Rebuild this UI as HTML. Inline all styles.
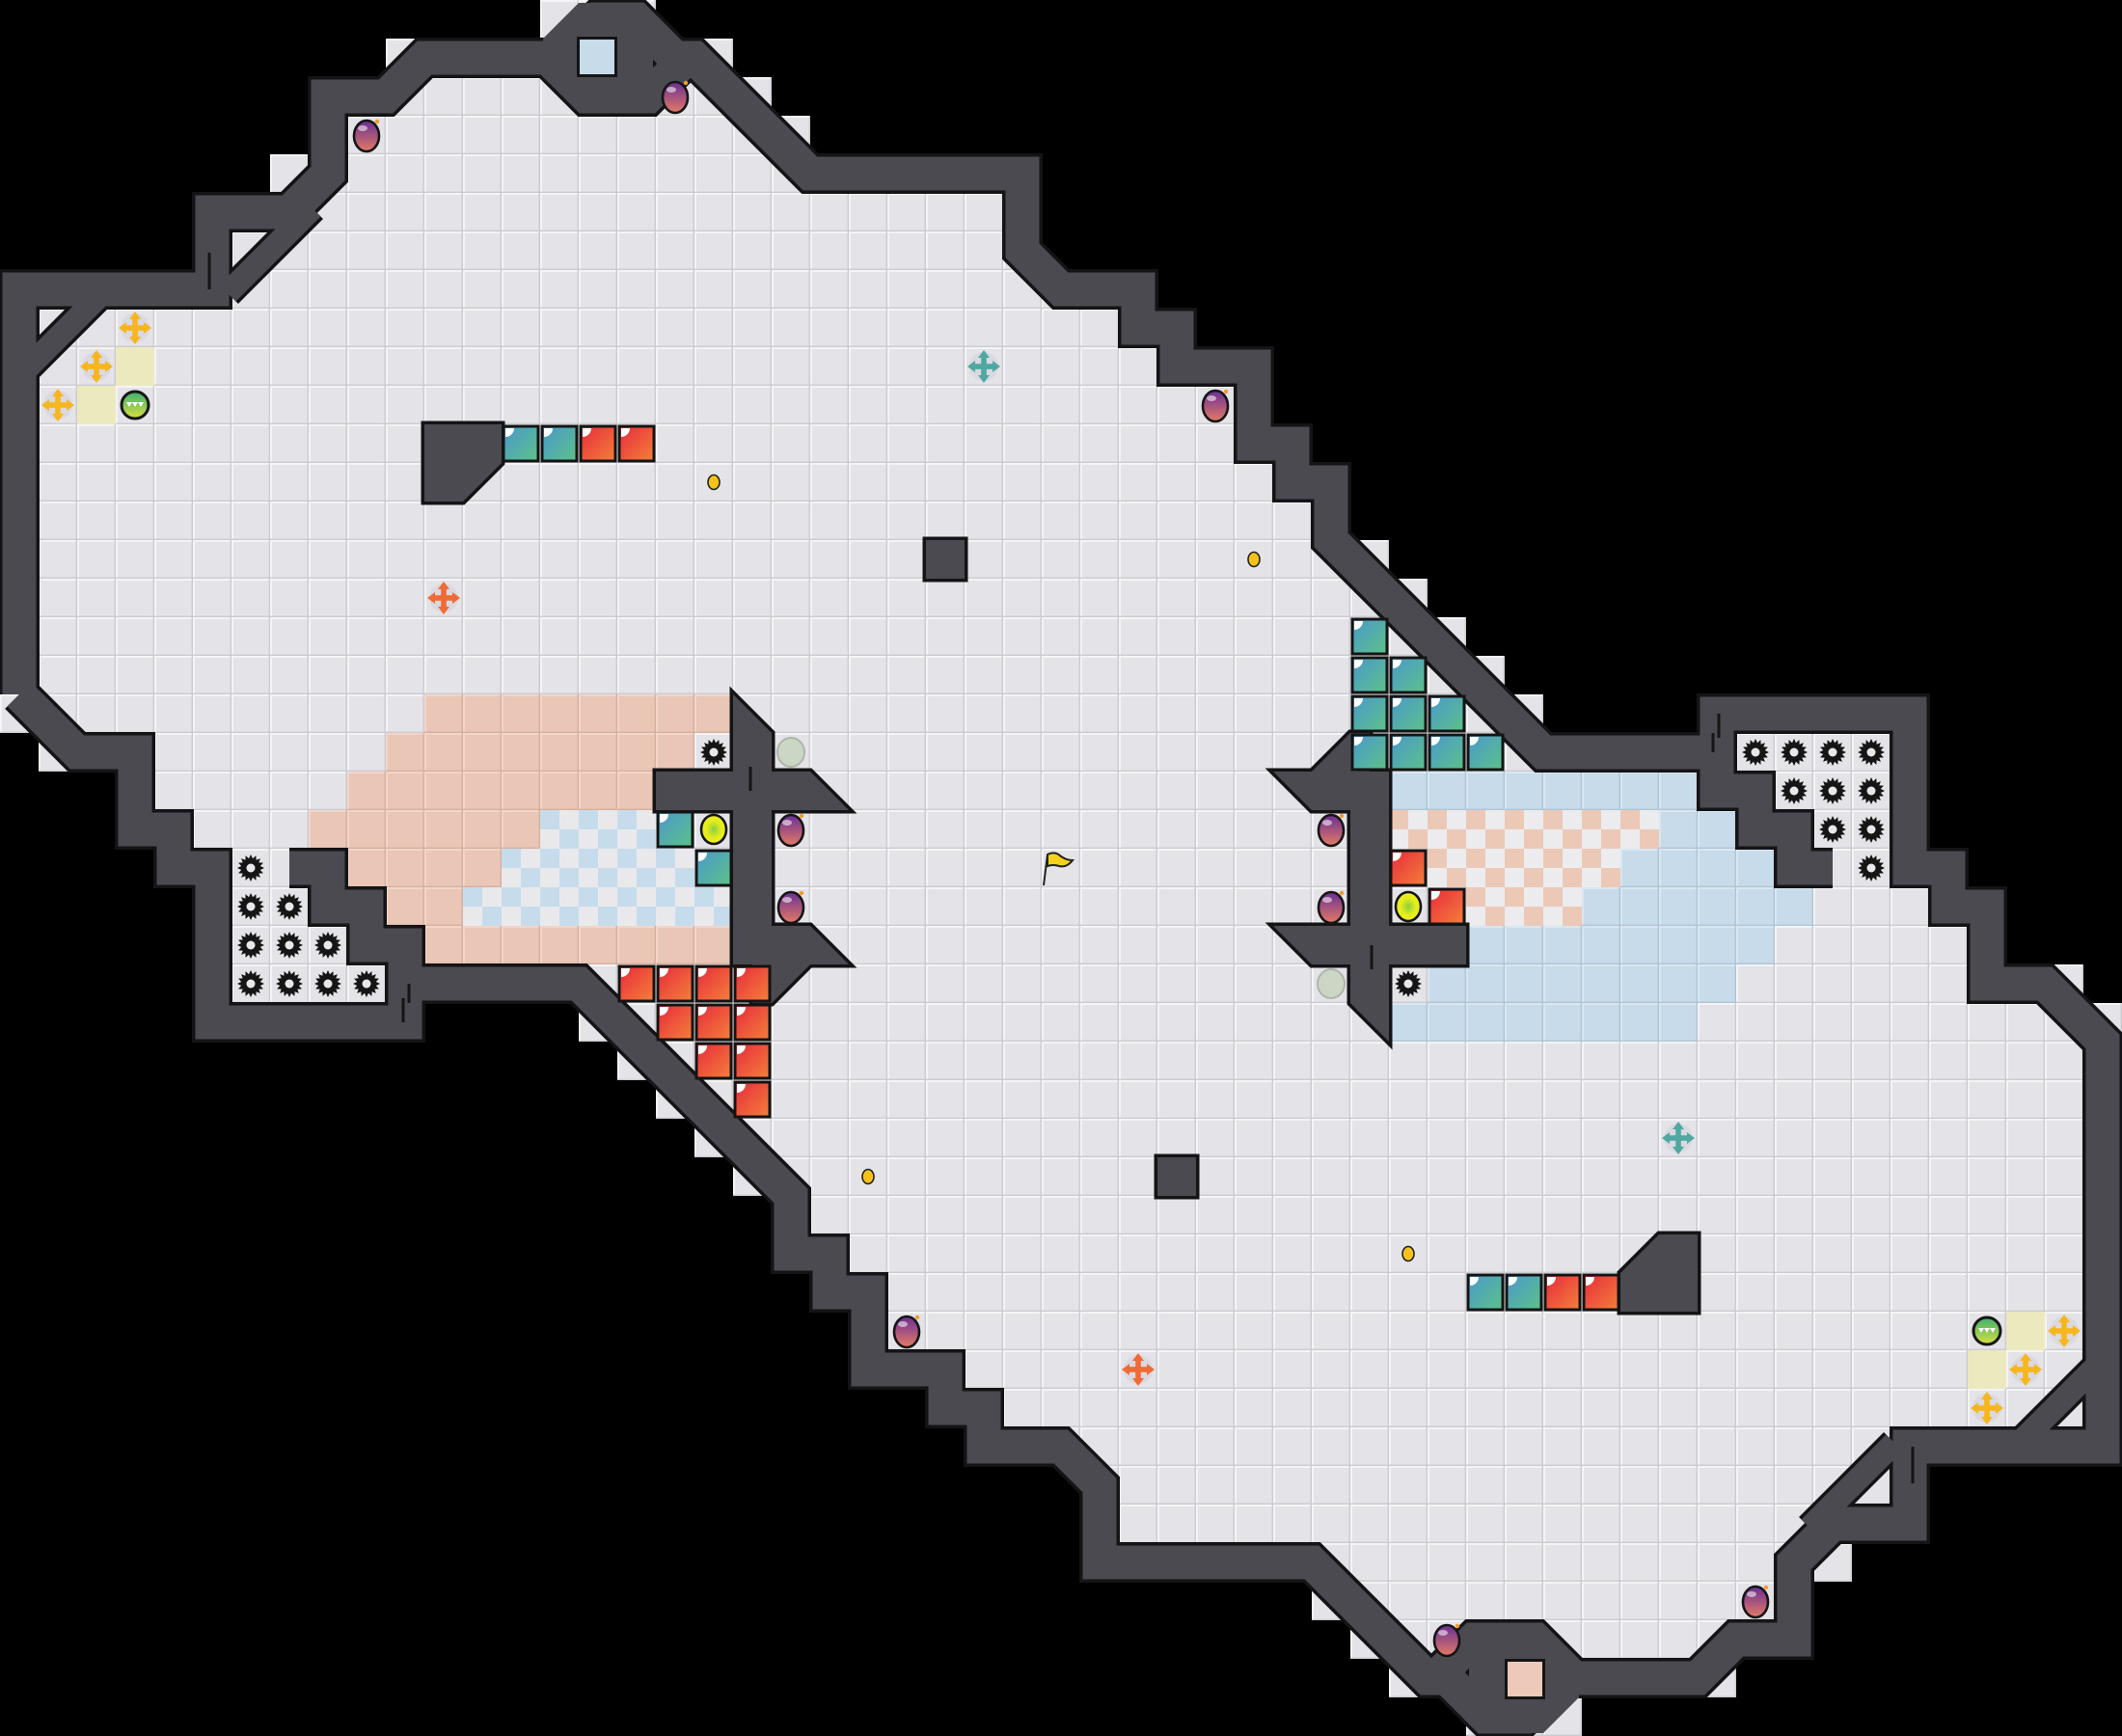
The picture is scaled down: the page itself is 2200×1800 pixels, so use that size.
<!DOCTYPE html>
<html><head><meta charset="utf-8"><style>html,body{margin:0;padding:0;background:#000;width:2200px;height:1800px;overflow:hidden}svg{display:block}</style></head>
<body>
<svg id="s" width="2200" height="1800" xmlns="http://www.w3.org/2000/svg"></svg>
<script>
const S=40;
const rc=p=>[55-p[0],45-p[1]];
const rC=p=>[54-p[0],44-p[1]];
const X=c=>(c+.5)*S, Y=r=>(r+.5)*S;
const pts=a=>a.map(p=>(p[0]*S)+','+(p[1]*S)).join(' ');
const cpts=a=>a.map(p=>X(p[0]).toFixed(1)+','+Y(p[1]).toFixed(1)).join(' ');
let o='';
o+=`<defs>
<pattern id="fl" width="40" height="40" patternUnits="userSpaceOnUse"><rect width="40" height="40" fill="#e3e3e8"/><path d="M0 1H40M1 0V40" stroke="#f4f4f6" stroke-width="2"/><path d="M0 39.3H40M39.3 0V40" stroke="#cbcbd1" stroke-width="1.4"/></pattern>
<pattern id="pk" width="40" height="40" patternUnits="userSpaceOnUse"><rect width="40" height="40" fill="#eac6b6"/><path d="M0 1H40M1 0V40" stroke="#f2d6c9" stroke-width="2"/><path d="M0 39.3H40M39.3 0V40" stroke="#d6b09e" stroke-width="1.4"/></pattern>
<pattern id="bl" width="40" height="40" patternUnits="userSpaceOnUse"><rect width="40" height="40" fill="#c7dbea"/><path d="M0 1H40M1 0V40" stroke="#d9e7f1" stroke-width="2"/><path d="M0 39.3H40M39.3 0V40" stroke="#afc5d6" stroke-width="1.4"/></pattern>
<pattern id="cb" width="40" height="40" patternUnits="userSpaceOnUse"><rect width="40" height="40" fill="#e9e9ec"/><rect width="20" height="20" fill="#c6dcec"/><rect x="20" y="20" width="20" height="20" fill="#c6dcec"/></pattern>
<pattern id="cp" width="40" height="40" patternUnits="userSpaceOnUse"><rect width="40" height="40" fill="#ececee"/><rect width="20" height="20" fill="#ecc8b7"/><rect x="20" y="20" width="20" height="20" fill="#ecc8b7"/></pattern>
<linearGradient id="gT" x1="0" y1="0" x2="1" y2="1"><stop offset="0" stop-color="#4a98cc"/><stop offset="1" stop-color="#5cc288"/></linearGradient>
<linearGradient id="gR" x1="0" y1="0" x2="1" y2="1"><stop offset="0" stop-color="#e62a3c"/><stop offset="1" stop-color="#f5803a"/></linearGradient>
<linearGradient id="gB" x1="0" y1="0" x2="0" y2="1"><stop offset="0" stop-color="#6a2f94"/><stop offset="1" stop-color="#e47a66"/></linearGradient>
<radialGradient id="gY"><stop offset="0" stop-color="#8ccf40"/><stop offset=".6" stop-color="#e4ec1c"/><stop offset="1" stop-color="#eef01a"/></radialGradient>
<linearGradient id="gG" x1="0" y1="0" x2="0" y2="1"><stop offset="0" stop-color="#3cb070"/><stop offset="1" stop-color="#d8e040"/></linearGradient>
</defs>`;
const F=[[0,19],[0,7],[5,7],[5,5],[7,5],[7,4],[8,4],[8,2],[10,2],[10,1],[14,1],[14,0],[17,0],[17,1],[19,1],[19,2],[20,2],[20,3],[21,3],[21,4],[27,4],[27,7],[30,7],[30,8],[31,8],[31,9],[33,9],[33,11],[34,11],[34,12],[35,12],[35,14],[36,14],[36,15],[37,15],[37,16],[38,16],[38,17],[39,17],[39,18],[40,18],[40,19],[44,19],[44,18],[50,18],[50,22],[51,22],[51,23],[52,23],[52,25],[54,25],[54,26],[55,26]];
const FF=F.concat(F.map(rc));
o+=`<polygon points="${pts(FF)}" fill="url(#fl)"/>`;
function cell(c,r,f){return `<rect x="${c*S}" y="${r*S}" width="40" height="40" fill="${f}"/>`;}
const reg=[[18,11,18,'p'],[19,10,17,'p'],[20,9,16,'p'],[21,8,13,'p'],[21,14,16,'c'],[22,9,12,'p'],[22,13,17,'c'],[23,10,11,'p'],[23,12,18,'c'],[24,11,18,'p']];
reg.forEach(([r,a,b,t])=>{for(let c=a;c<=b;c++){o+=cell(c,r,t=='p'?'url(#pk)':'url(#cb)');const q=rC([c,r]);o+=cell(q[0],q[1],t=='p'?'url(#bl)':'url(#cp)');}});
[[3,9],[2,10]].forEach(p=>{o+=cell(p[0],p[1],'#ece9bf');const q=rC(p);o+=cell(q[0],q[1],'#ece9bf');});
const W=[[0,17.5],[0,7],[5,7],[5,5],[7,5],[8,4],[8,2],[9.5,2],[10.5,1],[14,1],[15,0],[16,0],[17,1],[17.5,1],[20.5,4],[26,4],[26,6],[27,7],[29,7],[29,8],[30,8],[30,9],[32,9],[32,11],[33,11],[33,12],[34,12],[34,13.5],[39.5,19],[44,19],[44,18],[49,18],[49,22],[50,22],[50,23],[51,23],[51,25],[52.5,25],[54,26.5]];
const WW=W.concat(W.slice(1).map(rC));
const extras=[[[13.7,1],[14.7,2],[16.3,2],[17.3,1]],[[44,19],[44,20],[45,20],[45,21],[46,21],[46,22],[47,22]]];
const diag=[[[-0.2,9.45],[2.45,6.8]],[[5.4,7.1],[7.6,4.9]]];
let blk='',gry='';
function wl(a,w){blk+=`<polyline points="${cpts(a)}" fill="none" stroke="#141416" stroke-width="${w+7}" stroke-linejoin="miter"/>`;gry+=`<polyline points="${cpts(a)}" fill="none" stroke="#4a4a50" stroke-width="${w}" stroke-linejoin="miter"/>`;}
wl(WW.concat([WW[0]]),35);
extras.forEach(a=>{wl(a,35);wl(a.map(rC),35);});
diag.forEach(a=>{wl(a,24);wl(a.map(rC),24);});
o+=blk+gry;
// nook fill + boxes
const nook='600,3 640,3 677,40 677,80 640,115 600,115 563,80 563,40';
o+=`<polygon points="${nook}" fill="#4a4a50"/><g transform="rotate(180 1100 900)"><polygon points="${nook}" fill="#4a4a50"/></g>`;
o+=`<rect x="598" y="38" width="42" height="42" fill="#141416"/><rect x="601" y="41" width="36" height="36" fill="#c8dbe9"/>`;
o+=`<rect x="1560" y="1720" width="42" height="42" fill="#141416"/><rect x="1563" y="1723" width="36" height="36" fill="#ecc9b9"/>`;
function shapes(){
 return [
  `<polygon points="${pts([[11,11],[13,11],[13,12],[12,13],[11,13]])}"/>`,
  `<rect x="960" y="560" width="40" height="40"/>`,
  `<polygon points="760,720 800,760 800,1000 760,1000"/>`,
  `<polygon points="680,800 840,800 880,840 680,840"/>`,
  `<polygon points="800,960 840,960 880,1000 840,1000 800,1040 780,1040 780,960"/>`
 ];
}
const sh=shapes();
let sb='',sf='';
sh.forEach(s=>{sb+=s.replace(/\/>$/,' fill="#141416" stroke="#141416" stroke-width="7" stroke-linejoin="miter"/>');sf+=s.replace(/\/>$/,' fill="#4a4a50"/>');});
o+=`<g>${sb}</g><g transform="rotate(180 1100 900)">${sb}</g><g>${sf}</g><g transform="rotate(180 1100 900)">${sf}</g>`;
function blockI(c,r,g){const x=c*S+2,y=r*S+2;return `<rect x="${x}" y="${y}" width="36" height="36" fill="url(#${g})" stroke="#141414" stroke-width="3"/><path d="M${x+2} ${y+2}h9a9 9 0 0 1 -9 9z" fill="#fff"/>`;}
function bomb(c,r){const x=X(c),y=Y(r);return `<ellipse cx="${x}" cy="${y+1}" rx="13" ry="16" fill="url(#gB)" stroke="#151515" stroke-width="2.6"/><ellipse cx="${x-4}" cy="${y-7}" rx="5" ry="3" fill="#fff" opacity=".55"/><circle cx="${x+11}" cy="${y-14}" r="2.2" fill="#f39a2a"/>`;}
function gear(c,r){const x=X(c),y=Y(r);let p=[];for(let i=0;i<32;i++){const a=i*Math.PI/16,R=i%2?10:14;p.push((x+R*Math.cos(a)).toFixed(1)+','+(y+R*Math.sin(a)).toFixed(1));}return `<polygon points="${p.join(' ')}" fill="#151515"/><circle cx="${x}" cy="${y}" r="4.5" fill="#e8e8ec"/>`;}
function coin(c,r){return `<ellipse cx="${X(c)}" cy="${Y(r)}" rx="6" ry="7.5" fill="#f6c21a" stroke="#222" stroke-width="1.6"/>`;}
function cross(c,r,col){const x=X(c),y=Y(r);return `<circle cx="${x}" cy="${y}" r="15" fill="#d4d4dc" opacity=".7"/><g fill="${col}"><rect x="${x-2.8}" y="${y-13}" width="5.6" height="26"/><rect x="${x-13}" y="${y-2.8}" width="26" height="5.6"/><polygon points="${x},${y-17} ${x-6},${y-9} ${x+6},${y-9}"/><polygon points="${x},${y+17} ${x-6},${y+9} ${x+6},${y+9}"/><polygon points="${x-17},${y} ${x-9},${y-6} ${x-9},${y+6}"/><polygon points="${x+17},${y} ${x+9},${y-6} ${x+9},${y+6}"/></g>`;}
function yball(c,r){return `<ellipse cx="${X(c)}" cy="${Y(r)}" rx="13" ry="15" fill="url(#gY)" stroke="#151515" stroke-width="2.6"/>`;}
function gball(c,r){return `<ellipse cx="${X(c)}" cy="${Y(r)}" rx="14" ry="15" fill="#cbd6c4" stroke="#aeb6aa" stroke-width="2"/>`;}
function grn(c,r){const x=X(c),y=Y(r);return `<circle cx="${x}" cy="${y}" r="14" fill="url(#gG)" stroke="#151515" stroke-width="3"/><path d="M${x-9} ${y-3}l3 5 3-5zM${x-3} ${y-3}l3 5 3-5zM${x+3} ${y-3}l3 5 3-5z" fill="#fff"/>`;}
const sym=(f,list)=>list.forEach(p=>{o+=f(p[0],p[1]);const q=rC(p);o+=f(q[0],q[1]);});
sym(bomb,[[9,3],[17,2],[31,10],[20,21],[20,23]]);
sym(coin,[[18,12],[32,14]]);
sym(gear,[[18,19],[6,22],[6,23],[7,23],[6,24],[7,24],[8,24],[6,25],[7,25],[8,25],[9,25]]);
sym((c,r)=>cross(c,r,'#f7b51e'),[[3,8],[2,9],[1,10]]);
sym(grn,[[3,10]]);
sym(yball,[[18,21]]);
sym(gball,[[20,19]]);
[[13,11],[14,11],[38,33],[39,33],[17,21],[18,22],[35,16],[35,17],[36,17],[35,18],[36,18],[37,18],[35,19],[36,19],[37,19],[38,19]].forEach(p=>o+=blockI(p[0],p[1],'gT'));
[[15,11],[16,11],[40,33],[41,33],[36,22],[37,23],[16,25],[17,25],[18,25],[19,25],[17,26],[18,26],[19,26],[18,27],[19,27],[19,28]].forEach(p=>o+=blockI(p[0],p[1],'gR'));
o+=cross(11,15,'#f06a36')+cross(29,35,'#f06a36')+cross(25,9,'#4fa8a2')+cross(43,29,'#4fa8a2');
o+=`<line x1="1086" y1="886" x2="1082" y2="918" stroke="#222" stroke-width="2"/><path d="M1086 886 q8 -4 14 2 q6 4 12 4 q-6 8 -14 6 q-6 -2 -12 0z" fill="#f4d21c" stroke="#222" stroke-width="2"/>`;
o+=`<g stroke="#151515" stroke-width="3">`;
[[217,262,217,300],[1776,760,1776,780],[778,795,778,820],[418,1035,418,1060]].forEach(l=>{o+=`<line x1="${l[0]}" y1="${l[1]}" x2="${l[2]}" y2="${l[3]}"/><line x1="${2200-l[0]}" y1="${1800-l[1]}" x2="${2200-l[2]}" y2="${1800-l[3]}"/>`;});
o+=`</g>`;
document.getElementById('s').innerHTML=o;
</script>
</body></html>
